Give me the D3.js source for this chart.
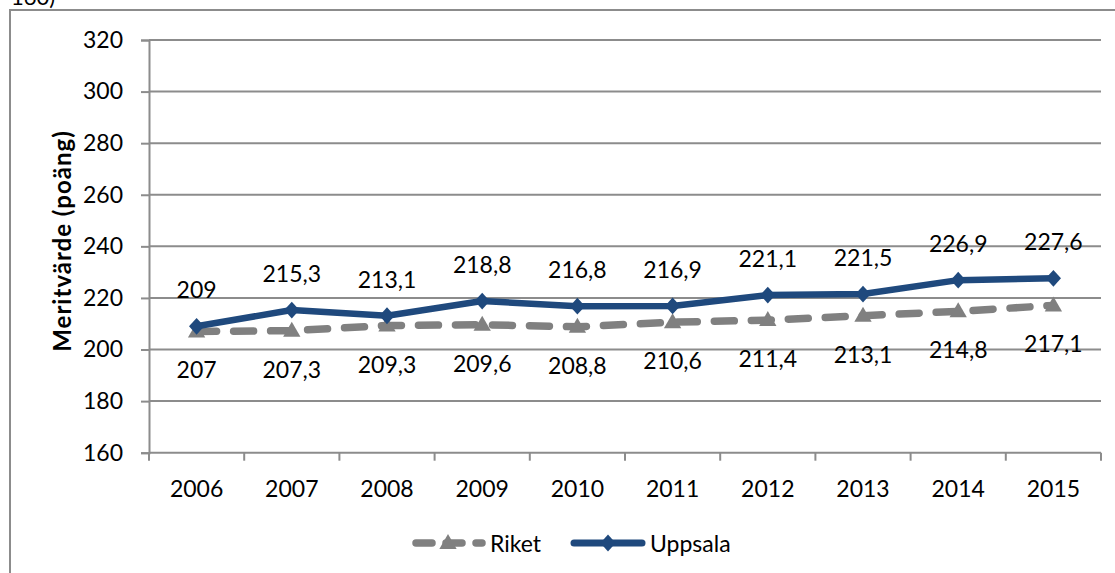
<!DOCTYPE html>
<html>
<head>
<meta charset="utf-8" />
<script src="https://cdn.jsdelivr.net/npm/d3@7"></script>
<style>
  body { margin: 0; background: #fff; overflow: hidden; }
  svg { display: block; }
</style>
</head>
<body>
<div id="chart"></div>
<script>
"use strict";

const years = ["2006", "2007", "2008", "2009", "2010", "2011", "2012", "2013", "2014", "2015"];
const riket = [207, 207.3, 209.3, 209.6, 208.8, 210.6, 211.4, 213.1, 214.8, 217.1];
const uppsala = [209, 215.3, 213.1, 218.8, 216.8, 216.9, 221.1, 221.5, 226.9, 227.6];
const yTicks = [160, 180, 200, 220, 240, 260, 280, 300, 320];

const W = 1115;
const H = 573;
const font = "Lato, 'Open Sans', sans-serif";
const gridCol = "#8c8c8c";
const blue = "#1f497d";
const gray = "#808080";

// swedish decimal comma
const fmt = (v) => String(v).replace(".", ",");

const svg = d3
  .select("#chart")
  .append("svg")
  .attr("width", W)
  .attr("height", H);

// cut-off text above the chart frame
svg
  .append("text")
  .attr("x", 11)
  .attr("y", 5)
  .attr("font-family", font)
  .attr("font-size", "22px")
  .attr("fill", "#000")
  .text("160)");

// outer frame (runs off the right and bottom)
svg
  .append("rect")
  .attr("x", 10)
  .attr("y", 10)
  .attr("width", W + 20)
  .attr("height", H + 20)
  .attr("fill", "none")
  .attr("stroke", gridCol)
  .attr("stroke-width", 2);

const x = d3.scaleBand().domain(years).range([149, 1101]).padding(0);
const y = d3.scaleLinear().domain([160, 320]).range([452.7, 40]);

// gridlines + y ticks
const yAxis = d3
  .axisLeft(y)
  .tickValues(yTicks)
  .tickSize(8)
  .tickFormat((d) => d);

const gy = svg.append("g").attr("transform", "translate(149,0)").call(yAxis);
gy.select(".domain").attr("stroke", gridCol).attr("stroke-width", 2);
gy.selectAll(".tick line").attr("stroke", gridCol).attr("stroke-width", 2);
gy.selectAll(".tick text")
  .attr("x", -26)
  .attr("font-family", font)
  .attr("font-size", "23px")
  .attr("fill", "#000");

svg
  .append("g")
  .selectAll("line")
  .data(yTicks.filter((d) => d !== 160))
  .enter()
  .append("line")
  .attr("x1", 149)
  .attr("x2", 1101)
  .attr("y1", (d) => y(d))
  .attr("y2", (d) => y(d))
  .attr("stroke", gridCol)
  .attr("stroke-width", 2);

// x axis: ticks sit between the categories
const gx = svg.append("g").attr("transform", "translate(0," + y(160) + ")");
gx.append("line")
  .attr("x1", 149)
  .attr("x2", 1101)
  .attr("stroke", gridCol)
  .attr("stroke-width", 2);
gx.selectAll(".xt")
  .data(years.concat(["end"]))
  .enter()
  .append("line")
  .attr("class", "xt")
  .attr("x1", (d, i) => 149 + i * x.bandwidth())
  .attr("x2", (d, i) => 149 + i * x.bandwidth())
  .attr("y1", 0)
  .attr("y2", 8)
  .attr("stroke", gridCol)
  .attr("stroke-width", 2);
gx.selectAll(".xl")
  .data(years)
  .enter()
  .append("text")
  .attr("class", "xl")
  .attr("x", (d) => x(d) + x.bandwidth() / 2)
  .attr("y", 44)
  .attr("text-anchor", "middle")
  .attr("font-family", font)
  .attr("font-size", "23px")
  .attr("fill", "#000")
  .text((d) => d);

// y title
svg
  .append("text")
  .attr("transform", "translate(71,241) rotate(-90)")
  .attr("text-anchor", "middle")
  .attr("font-family", font)
  .attr("font-size", "24px")
  .attr("font-weight", "bold")
  .attr("letter-spacing", "1px")
  .attr("fill", "#000")
  .text("Meritvärde (poäng)");

const cx = (d, i) => x(years[i]) + x.bandwidth() / 2;

const line = d3
  .line()
  .x((d, i) => cx(d, i))
  .y((d) => y(d));

// Riket
svg
  .append("path")
  .datum(riket)
  .attr("d", line)
  .attr("fill", "none")
  .attr("stroke", gray)
  .attr("stroke-width", 7.5)
  .attr("stroke-linecap", "round")
  .attr("stroke-dasharray", "20 17");

const tri = d3.symbol().type(d3.symbolTriangle).size(130);
svg
  .append("g")
  .selectAll("path")
  .data(riket)
  .enter()
  .append("path")
  .attr("d", tri)
  .attr("transform", (d, i) => "translate(" + cx(d, i) + "," + (y(d) + 1) + ")")
  .attr("fill", gray);

// Uppsala
svg
  .append("path")
  .datum(uppsala)
  .attr("d", line)
  .attr("fill", "none")
  .attr("stroke", blue)
  .attr("stroke-width", 6.5)
  .attr("stroke-linejoin", "round");

const dia = d3.symbol().type(d3.symbolSquare).size(128);
svg
  .append("g")
  .selectAll("path")
  .data(uppsala)
  .enter()
  .append("path")
  .attr("d", dia)
  .attr("transform", (d, i) => "translate(" + cx(d, i) + "," + y(d) + ") scale(0.95,1.05) rotate(45)")
  .attr("fill", blue);

// data labels
svg
  .append("g")
  .selectAll("text")
  .data(uppsala)
  .enter()
  .append("text")
  .attr("x", (d, i) => cx(d, i))
  .attr("y", (d) => y(d) - 28)
  .attr("text-anchor", "middle")
  .attr("font-family", font)
  .attr("font-size", "23px")
  .attr("fill", "#000")
  .text((d) => fmt(d));

svg
  .append("g")
  .selectAll("text")
  .data(riket)
  .enter()
  .append("text")
  .attr("x", (d, i) => cx(d, i))
  .attr("y", (d) => y(d) + 47)
  .attr("text-anchor", "middle")
  .attr("font-family", font)
  .attr("font-size", "23px")
  .attr("fill", "#000")
  .text((d) => fmt(d));

// legend
const lg = svg.append("g").attr("transform", "translate(0,543)");
lg.append("line")
  .attr("x1", 416)
  .attr("x2", 482)
  .attr("stroke", gray)
  .attr("stroke-width", 7.5)
  .attr("stroke-linecap", "round")
  .attr("stroke-dasharray", "16 14");
lg.append("path").attr("d", tri).attr("transform", "translate(448,1)").attr("fill", gray);
lg.append("text")
  .attr("x", 490)
  .attr("y", 9)
  .attr("font-family", font)
  .attr("font-size", "23px")
  .attr("fill", "#000")
  .text("Riket");

lg.append("line")
  .attr("x1", 574)
  .attr("x2", 642)
  .attr("stroke", blue)
  .attr("stroke-width", 7)
  .attr("stroke-linecap", "round");
lg.append("path").attr("d", dia).attr("transform", "translate(608,0) scale(0.95,1.05) rotate(45)").attr("fill", blue);
lg.append("text")
  .attr("x", 650)
  .attr("y", 9)
  .attr("font-family", font)
  .attr("font-size", "23px")
  .attr("fill", "#000")
  .text("Uppsala");
</script>
</body>
</html>
